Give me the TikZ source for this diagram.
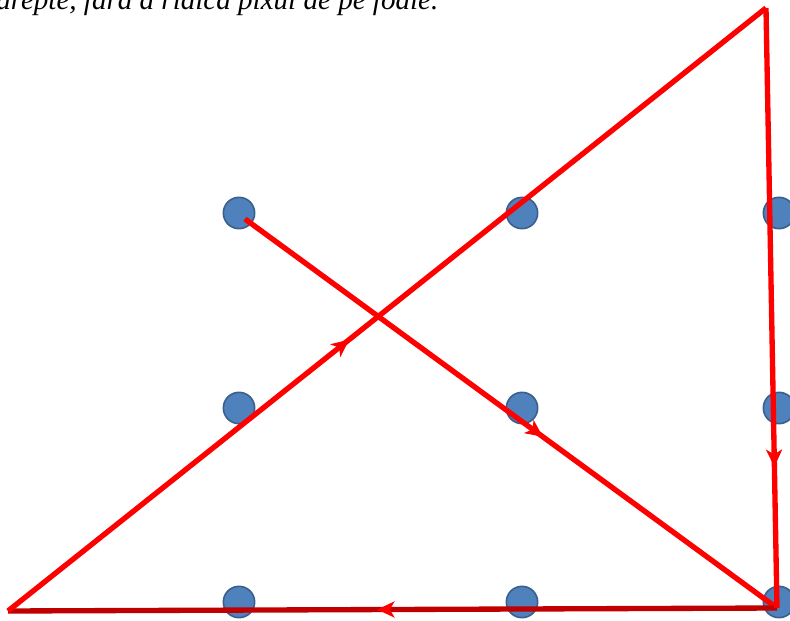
\documentclass[tikz,border=0pt]{standalone}
\usepackage{fontspec}
\setmainfont{Liberation Serif}
\usetikzlibrary{arrows.meta,decorations.markings}
\definecolor{dotblue}{HTML}{4F81BD}
\definecolor{dotedge}{HTML}{3A5F8C}
\definecolor{penred}{HTML}{FF0000}
\definecolor{pendark}{HTML}{C00000}

\begin{document}
\begin{tikzpicture}[x=0.75pt,y=-0.75pt,
  point/.style={circle,fill=dotblue,draw=dotedge,line width=1.2pt,minimum size=23.5pt,inner sep=0pt},
  pen/.style={line width=4pt,draw=penred},
  tipat/.style={postaction={decorate,decoration={markings,
      mark=at position #1 with {\arrow[penred]{Stealth[length=13pt,width=12pt,inset=3.5pt]}}}}}]
  \useasboundingbox (0,0) rectangle (790,621);

  \node[anchor=base west,inner sep=0pt,font=\itshape\fontsize{21.8}{26}\selectfont]
    (task) at (-4,10) {drepte, fără a ridica pixul de pe foaie.};

  \node[point] (p11) at (239,213) {};
  \node[point] (p12) at (522,213) {};
  \node[point] (p13) at (779,213) {};
  \node[point] (p21) at (239,408) {};
  \node[point] (p22) at (522,408) {};
  \node[point] (p23) at (779,408) {};
  \node[point] (p31) at (239,602) {};
  \node[point] (p32) at (522,602) {};
  \node[point] (p33) at (779,602) {};

  \coordinate (start) at (245,219);
  \coordinate (br) at (777,608);
  \coordinate (bl) at (8,611);
  \coordinate (apex) at (766,8);

  \draw[pen, tipat=0.56] (start) -- (br);
  \draw[pen, draw=pendark, tipat=0.52] (br) -- (bl);
  \draw[pen, tipat=0.45] (bl) -- (apex);
  \draw[pen, tipat=0.765] (apex) -- (br);
\end{tikzpicture}
\end{document}
